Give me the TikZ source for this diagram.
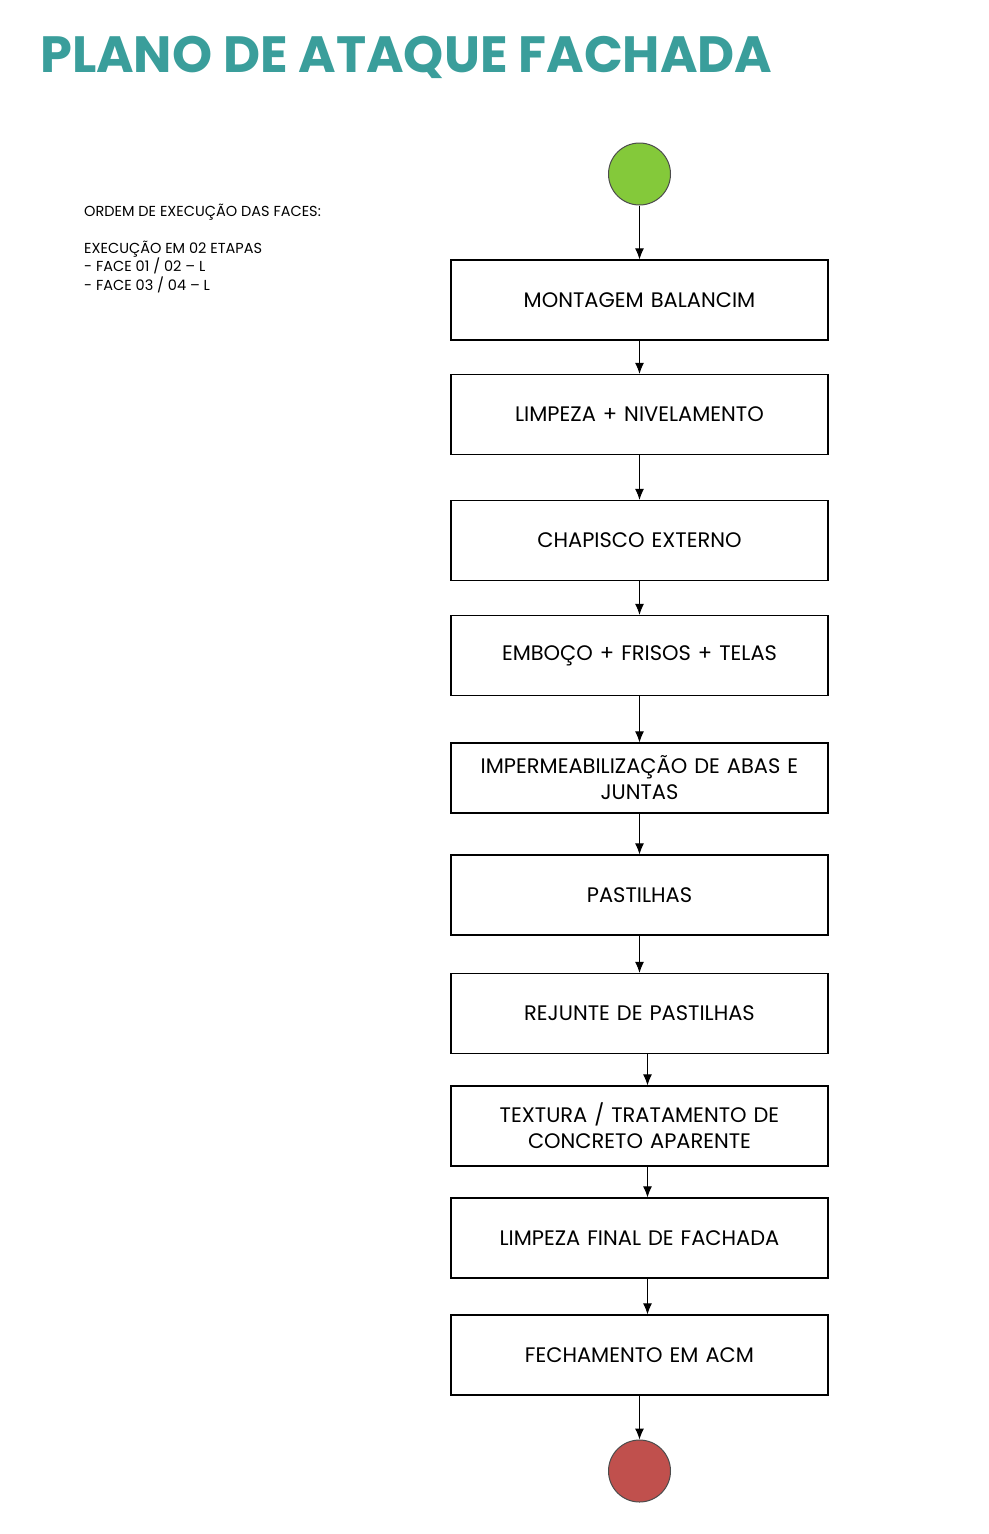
\documentclass[tikz,border=0pt]{standalone}
\usepackage{fontspec}
\setmainfont{Poppins}
\usetikzlibrary{positioning,arrows.meta,calc}
\definecolor{titleteal}{HTML}{3A9E9B}
\definecolor{startgreen}{HTML}{84C93A}
\definecolor{endred}{HTML}{C0504D}
\tikzset{
  stage/.style={draw=black,line width=1.2pt,minimum width=377pt,minimum height=80pt,
    text width=372pt,align=center,font=\fontsize{21}{26}\selectfont,inner sep=0pt},
  flow/.style={-{Latex[length=11pt,width=9pt]},line width=1pt},
  blob/.style={circle,draw=black!70,line width=1pt,minimum size=62pt,inner sep=0pt}
}
\begin{document}
\begin{tikzpicture}[x=1pt,y=-1pt]

   \useasboundingbox (0,0) rectangle (988,1534);

   % Title and notes

   \node[anchor=base west,text=titleteal,font=\fontsize{51}{51}\selectfont\bfseries,inner sep=0pt]
     (title) at (40,72) {PLANO DE ATAQUE FACHADA};

   \node[anchor=north west,align=left,font=\fontsize{14.5}{18.5}\selectfont,inner sep=0pt]
     (notes) at (84,204) {ORDEM DE EXECUÇÃO DAS FACES:\\[18pt]
     EXECUÇÃO EM 02 ETAPAS\\- FACE 01 / 02 – L\\- FACE 03 / 04 – L};

   % Flow stages

   \node[blob,fill=startgreen] (start) at (639.5,174) {};
   \node[stage] (s1) at (639.5,300) {MONTAGEM BALANCIM};
   \node[stage] (s2) at (639.5,414.5) {LIMPEZA + NIVELAMENTO};
   \node[stage] (s3) at (639.5,540.5) {CHAPISCO EXTERNO};
   \node[stage] (s4) at (639.5,655.5) {EMBOÇO + FRISOS + TELAS};
   \node[stage,minimum height=70pt] (s5) at (639.5,778) {IMPERMEABILIZAÇÃO DE ABAS E\\JUNTAS};
   \node[stage] (s6) at (639.5,895) {PASTILHAS};
   \node[stage] (s7) at (639.5,1013.5) {REJUNTE DE PASTILHAS};
   \node[stage] (s8) at (639.5,1126) {TEXTURA / TRATAMENTO DE\\CONCRETO APARENTE};
   \node[stage] (s9) at (639.5,1238) {LIMPEZA FINAL DE FACHADA};
   \node[stage] (s10) at (639.5,1355) {FECHAMENTO EM ACM};
   \node[blob,fill=endred] (stop) at (639.5,1471) {};

   % Connectors

   \draw[flow] (start) -- (s1);
   \draw[flow] (s1) -- (s2);
   \draw[flow] (s2) -- (s3);
   \draw[flow] (s3) -- (s4);
   \draw[flow] (s4) -- (s5);
   \draw[flow] (s5) -- (s6);
   \draw[flow] (s6) -- (s7);
   \draw[flow] ($(s7.south)+(8,0)$) -- ($(s8.north)+(8,0)$);
   \draw[flow] ($(s8.south)+(8,0)$) -- ($(s9.north)+(8,0)$);
   \draw[flow] ($(s9.south)+(8,0)$) -- ($(s10.north)+(8,0)$);
   \draw[flow] (s10) -- (stop);

\end{tikzpicture}
\end{document}
